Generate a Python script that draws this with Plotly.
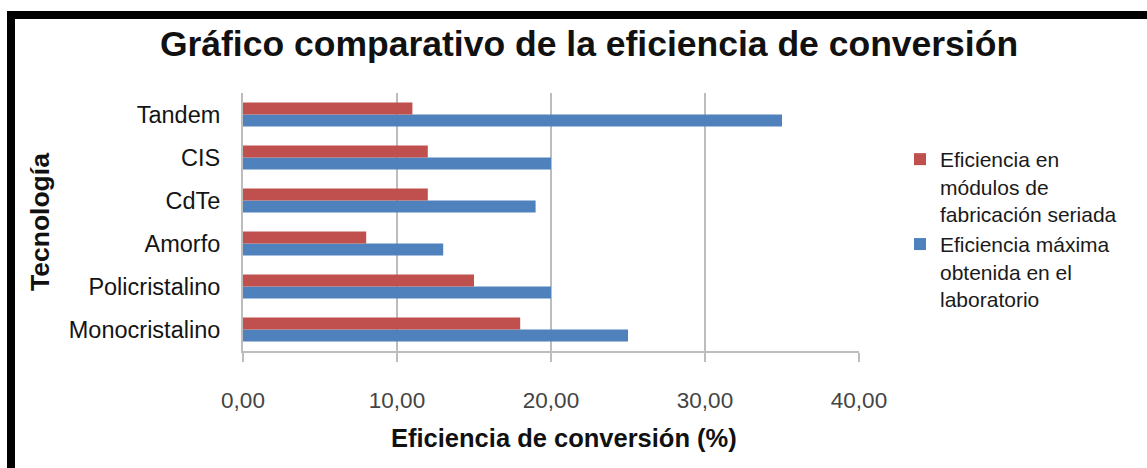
import plotly.graph_objects as go

# Conversion efficiency by photovoltaic technology (%)
tecnologias = ["Monocristalino", "Policristalino", "Amorfo", "CdTe", "CIS", "Tandem"]
eficiencia_modulos = [18, 15, 8, 12, 12, 11]
eficiencia_laboratorio = [25, 20, 13, 19, 20, 35]

nombre_modulos = "Eficiencia en<br>módulos de<br>fabricación seriada"
nombre_laboratorio = "Eficiencia máxima<br>obtenida en el<br>laboratorio"

W, H = 1147, 468
PLOT_L, PLOT_R, PLOT_T, PLOT_B = 243, 859, 93, 351


def px_x(x):
    return (x - PLOT_L) / (PLOT_R - PLOT_L)


def px_y(y):
    return (PLOT_B - y) / (PLOT_B - PLOT_T)


FONT = "Liberation Sans, Arial, sans-serif"
ROJO = "#C0504D"
AZUL = "#4F81BD"
GRIS = "#BDBDBD"

fig = go.Figure()
fig.add_trace(go.Bar(
    y=tecnologias, x=eficiencia_laboratorio, orientation="h",
    name=nombre_laboratorio, marker=dict(color=AZUL, line=dict(width=0)),
    legendrank=2,
))
fig.add_trace(go.Bar(
    y=tecnologias, x=eficiencia_modulos, orientation="h",
    name=nombre_modulos, marker=dict(color=ROJO, line=dict(width=0)),
    legendrank=1,
))

fig.update_layout(
    width=W, height=H,
    margin=dict(l=PLOT_L, r=W - PLOT_R, t=PLOT_T, b=H - PLOT_B, autoexpand=False),
    paper_bgcolor="white", plot_bgcolor="white",
    separators=",.",
    barmode="group", bargap=0.44, bargroupgap=0,
    font=dict(family=FONT, color="#222222"),
    title=dict(
        text="<b>Gráfico comparativo de la eficiencia de conversión</b>",
        font=dict(family=FONT, size=35.5, color="#111111"),
        x=589 / W, xanchor="center", xref="container",
        y=1 - 44 / H, yanchor="middle",
    ),
    xaxis=dict(
        range=[0, 40], dtick=10, tick0=0, tickformat=".2f",
        showgrid=True, gridcolor=GRIS, gridwidth=2,
        showline=True, linecolor=GRIS, linewidth=2,
        ticks="outside", ticklen=9, tickwidth=2, tickcolor=GRIS,
        tickfont=dict(family=FONT, size=22.5, color="#444444"),
        ticklabelstandoff=19,
        zeroline=False, fixedrange=True,
    ),
    yaxis=dict(
        showgrid=False, zeroline=False,
        showline=True, linecolor=GRIS, linewidth=2,
        ticks="", tickfont=dict(family=FONT, size=23.5, color="#141414"),
        ticklabelstandoff=16, fixedrange=True,
    ),
    legend=dict(
        x=px_x(900), xanchor="left", y=px_y(139), yanchor="top",
        valign="top", traceorder="normal",
        font=dict(family=FONT, size=21, color="#1a1a1a"),
        bgcolor="rgba(0,0,0,0)", tracegroupgap=8,
    ),
    showlegend=True,
)

# Axis titles
fig.add_annotation(
    text="<b>Eficiencia de conversión (%)</b>", xref="paper", yref="paper",
    x=px_x(564), y=px_y(438), xanchor="center", yanchor="middle",
    showarrow=False, font=dict(family=FONT, size=25.5, color="#111111"),
)
fig.add_annotation(
    text="<b>Tecnología</b>", xref="paper", yref="paper",
    x=px_x(40), y=px_y(222), xanchor="center", yanchor="middle",
    textangle=-90, showarrow=False,
    font=dict(family=FONT, size=26.5, color="#111111"),
)

# Black frame along the top and left edges
fig.add_shape(type="rect", xref="paper", yref="paper", layer="above",
              x0=px_x(7), x1=px_x(W + 2), y0=px_y(11), y1=px_y(19),
              fillcolor="black", line=dict(width=0))
fig.add_shape(type="rect", xref="paper", yref="paper", layer="above",
              x0=px_x(7), x1=px_x(15), y0=px_y(11), y1=px_y(H + 2),
              fillcolor="black", line=dict(width=0))

fig.write_html("out.html")
